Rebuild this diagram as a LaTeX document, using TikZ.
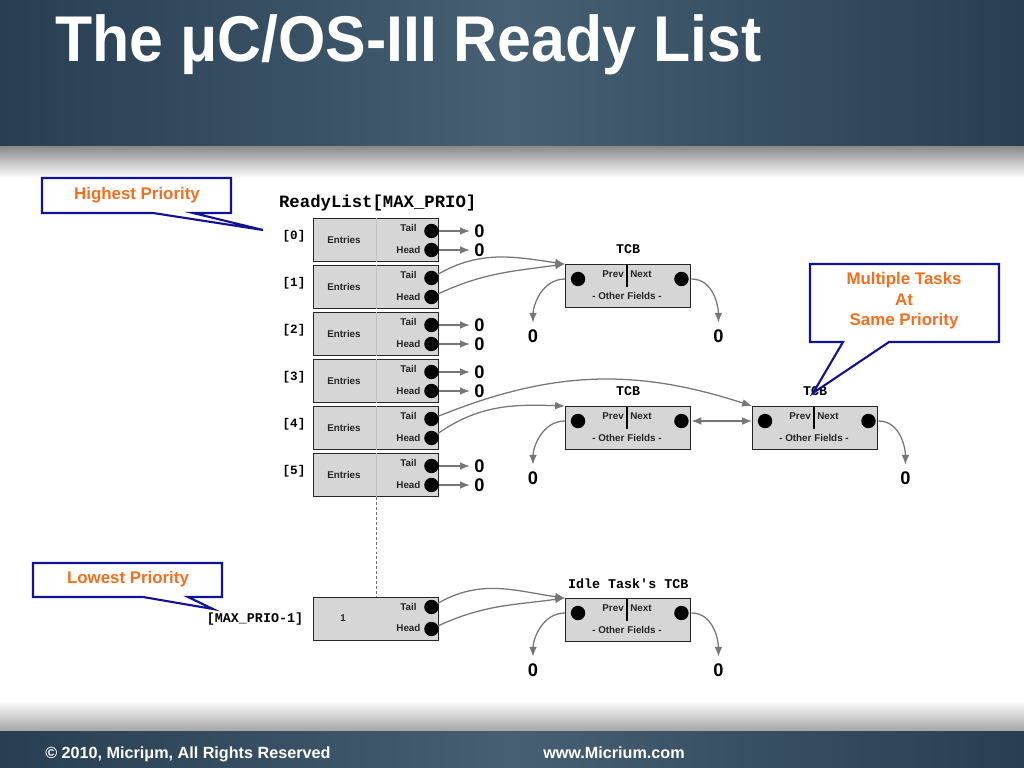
\documentclass[tikz,border=0pt]{standalone}
\usepackage{fontspec}
\setmainfont{Liberation Sans}
\setmonofont{Liberation Mono}
\usetikzlibrary{arrows.meta, positioning, calc}
\definecolor{slidedark}{RGB}{40,62,82}
\definecolor{slidelight}{RGB}{70,95,114}
\definecolor{calloutblue}{RGB}{18,18,150}
\definecolor{calloutorange}{RGB}{240,112,32}
\definecolor{slotgray}{RGB}{214,214,214}
\definecolor{linkgray}{RGB}{118,118,118}

\begin{document}
\begin{tikzpicture}[x=0.025cm, y=0.025cm,
  >={Latex[length=7pt,width=5.5pt]},
  slot/.style={draw=black!85, fill=slotgray, line width=1pt, minimum width=3.125cm, minimum height=1.075cm, inner sep=0pt},
  dot/.style={circle, fill=black, minimum size=0.36cm, inner sep=0pt},
  tiny/.style={font=\fontsize{7}{8}\selectfont\bfseries, text=black!85, inner sep=0pt},
  code/.style={font=\ttfamily\bfseries\fontsize{9.5}{11}\selectfont, inner sep=0pt},
  nil/.style={font=\fontsize{13}{14}\selectfont\bfseries, inner sep=0pt},
  link/.style={draw=linkgray, line width=0.9pt, ->},
  callout/.style={draw=calloutblue, line width=1.5pt, fill=white, line join=miter},
  callouttext/.style={font=\fontsize{12}{14.5}\selectfont\bfseries, text=calloutorange, align=center},
  banner/.style={font=\fontsize{11.5}{13}\selectfont\bfseries, text=white, inner sep=0pt},
]
\useasboundingbox (0,0) rectangle (1024,-768);

% slide header and footer
\shade[left color=slidedark, right color=slidedark, middle color=slidelight] (0,0) rectangle (1024,-147);
\shade[top color=black!45, bottom color=white] (0,-147) rectangle (1024,-178);
\shade[top color=white, bottom color=black!35] (0,-700) rectangle (1024,-731);
\shade[left color=slidedark, right color=slidedark, middle color=slidelight] (0,-731) rectangle (1024,-768);
\node[font=\fontsize{46}{52}\selectfont\bfseries, text=white, anchor=base west, inner sep=0pt] (title) at (55,-62) {\scalebox{0.94}[1]{The μC/OS-III Ready List}};
\node[banner, anchor=base west] (copy) at (45,-758) {© 2010, Micriμm, All Rights Reserved};
\node[banner, anchor=base west] (web) at (543,-758) {www.Micrium.com};

% ready list
\foreach \i/\top in {0/218,1/265,2/312,3/359,4/406,5/453} {
  \node[slot, anchor=north west] (r\i) at (313,-\top) {};
  \draw[slotgray!90!black, line width=0.4pt] (r\i.north) -- (r\i.south);
  \node[tiny] (r\i-e) at ($(r\i.west)+(31,0)$) {Entries};
  \node[tiny] (r\i-t) at ($(r\i.north east)+(-31,-10)$) {Tail};
  \node[tiny] (r\i-h) at ($(r\i.north east)+(-31,-32)$) {Head};
  \node[dot] (tail\i) at ($(r\i.north east)+(-8,-13)$) {};
  \node[dot] (head\i) at ($(r\i.north east)+(-8,-32)$) {};
  \node[code, font=\ttfamily\bfseries\fontsize{9}{11}\selectfont] (idx\i) at ($(r\i.west)+(-19,4)$) {[\i]};
}
\node[code, font=\ttfamily\bfseries\fontsize{12.3}{14}\selectfont] (rl) at ($(r0.north)+(1.5,15)$) {ReadyList[MAX\_PRIO]};
\foreach \i in {0,2,3,5} {
  \node[nil] (zt\i) at ($(tail\i)+(48,0)$) {0};
  \node[nil] (zh\i) at ($(head\i)+(48,0)$) {0};
  \draw[link, shorten >=3pt] (tail\i) -- (zt\i);
  \draw[link, shorten >=3pt] (head\i) -- (zh\i);
}

\node[slot, anchor=north west] (rM) at (313,-597) {};
\node[tiny] (rM-e) at ($(rM.west)+(30,1)$) {1};
\node[tiny] (rM-t) at ($(rM.north east)+(-31,-10)$) {Tail};
\node[tiny] (rM-h) at ($(rM.north east)+(-31,-31)$) {Head};
\node[dot] (tailM) at ($(rM.north east)+(-8,-10)$) {};
\node[dot] (headM) at ($(rM.north east)+(-8,-32)$) {};
\node[code] (idxM) at ($(rM.west)+(-58,0)$) {[MAX\_PRIO-1]};
\draw[black!55, line width=0.6pt, dash pattern=on 2pt off 1.5pt] (r5.south) -- (rM.north);

% task control blocks
\foreach \n/\x/\y in {t1/565/264, t2/565/406, t3/752/406, t4/565/598} {
  \node[slot, anchor=north west] (\n) at (\x,-\y) {};
  \node[dot] (\n-p) at ($(\n.north west)+(13,-15)$) {};
  \node[dot] (\n-n) at ($(\n.north east)+(-10,-15)$) {};
  \node[tiny, anchor=east] (\n-pt) at ($(\n.north west)+(59,-10)$) {Prev};
  \node[tiny, anchor=west] (\n-nt) at ($(\n.north west)+(65,-10)$) {Next};
  \draw[line width=1pt] ($(\n.north west)+(62,-1)$) -- ++(0,-22);
  \node[tiny] (\n-of) at ($(\n.north west)+(62,-32)$) {- Other Fields -};
}
\node[code] (t1-lbl) at ($(t1.north)+(0,15)$) {TCB};
\node[code] (t2-lbl) at ($(t2.north)+(0,15)$) {TCB};
\node[code] (t3-lbl) at ($(t3.north)+(0,15)$) {TCB};
\node[code] (t4-lbl) at ($(t4.north)+(0,14)$) {Idle Task's TCB};

\foreach \n in {t1,t2,t4} {
  \node[nil] (\n-zl) at ($(\n.south west)+(-32,-28)$) {0};
  \draw[link, shorten >=5pt] (\n.west |- \n-p) to[out=180,in=90] (\n-zl.north);
}
\foreach \n in {t1,t3,t4} {
  \node[nil] (\n-zr) at ($(\n.south east)+(27,-28)$) {0};
  \draw[link, shorten >=5pt] (\n.east |- \n-n) to[out=0,in=90] (\n-zr.north);
}
\draw[link, <->] (t2.east |- t2-n) -- (t3.west |- t3-p);

\draw[link] (tail1) to[out=30,in=172] (t1.north west);
\draw[link] (head1) to[out=25,in=188] (t1.north west);
\draw[link] (tail4) to[out=22,in=162] (t3.north west);
\draw[link] (head4) to[out=35,in=178] (t2.north west);
\draw[link] (tailM) to[out=30,in=172] (t4.north west);
\draw[link] (headM) to[out=25,in=188] (t4.north west);

% callouts
\draw[callout] (42,-178) -- (231,-178) -- (231,-213) -- (193,-213) -- (263,-230) -- (153,-213) -- (42,-213) -- cycle;
\node[callouttext] (hp) at (137,-195) {Highest Priority};
\draw[callout] (33,-563) -- (222,-563) -- (222,-597) -- (188,-597) -- (213,-609) -- (143,-597) -- (33,-597) -- cycle;
\node[callouttext] (lp) at (128,-579) {Lowest Priority};
\draw[callout] (810,-264) -- (999,-264) -- (999,-342) -- (889,-342) -- (813,-393) -- (843,-342) -- (810,-342) -- cycle;
\node[callouttext] (mt) at (904,-301) {Multiple Tasks\\At\\Same Priority};
\end{tikzpicture}
\end{document}
